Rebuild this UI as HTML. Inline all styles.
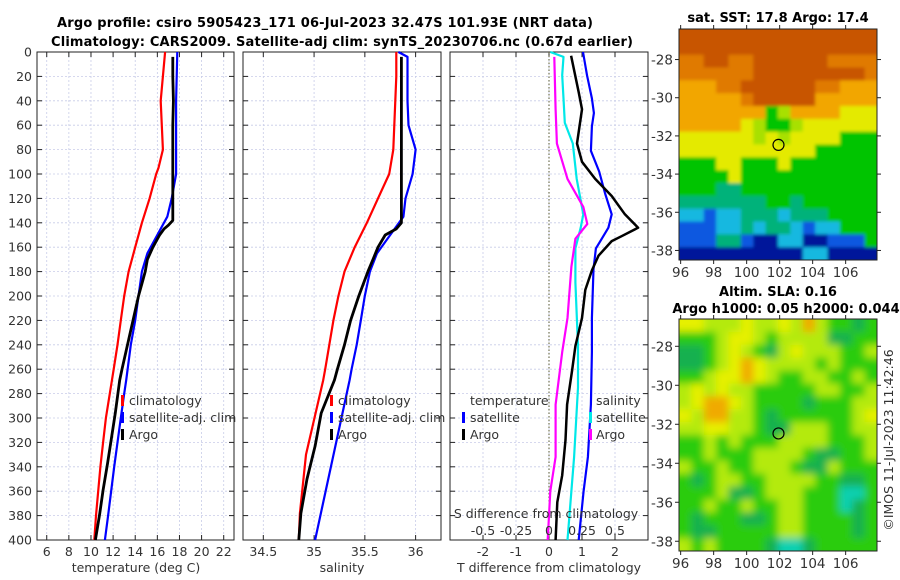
<!DOCTYPE html>
<html><head><meta charset="utf-8"><style>
body{margin:0;background:#fff;}
svg{display:block;font-family:"DejaVu Sans","Liberation Sans",sans-serif;}
.tk{font-size:12.5px;fill:#333;}
.ttl{font-size:13px;font-weight:bold;fill:#000;}
</style></head><body>
<svg id="fig" width="900" height="580" viewBox="0 0 900 580" xmlns="http://www.w3.org/2000/svg">
<defs>
<filter id="blur1" x="-5%" y="-5%" width="110%" height="110%"><feGaussianBlur stdDeviation="1.6"/></filter>
<filter id="blur2" x="-5%" y="-5%" width="110%" height="110%"><feGaussianBlur stdDeviation="4"/></filter>
<clipPath id="clip1"><rect x="679" y="29" width="198" height="231"/></clipPath>
<clipPath id="clip2"><rect x="679" y="319" width="198" height="232"/></clipPath>
</defs>
<text class="ttl" x="325" y="27" text-anchor="middle" textLength="536">Argo profile: csiro 5905423_171 06-Jul-2023 32.47S 101.93E (NRT data)</text>
<text class="ttl" x="342" y="46" text-anchor="middle" textLength="582">Climatology: CARS2009. Satellite-adj clim: synTS_20230706.nc (0.67d earlier)</text>
<g id="p1"></g>
<g id="p2"></g>
<g id="p3"></g>
<g id="m1"></g>
<g id="m2"></g>
<text class="tk" transform="translate(893,440) rotate(-90)" text-anchor="middle">©IMOS 11-Jul-2023 11:42:46</text>
</svg>
<script>
// ---- data ----
const depthTicks=[0,20,40,60,80,100,120,140,160,180,200,220,240,260,280,300,320,340,360,380,400];
const tClimDepth=[0,20,40,60,80,95,100,120,140,160,180,200,220,240,260,280,300,320,340,360,380,400];
const tClimVal=[16.7,16.5,16.3,16.4,16.5,16.1,15.9,15.3,14.6,14.0,13.4,13.0,12.7,12.4,12.05,11.7,11.35,11.1,10.85,10.65,10.45,10.3];
const tSatDepth=[0,20,40,60,80,100,120,135,150,165,180,200,220,240,269,280,300,340,380,400];
const tSatVal=[17.8,17.75,17.7,17.7,17.7,17.7,17.3,16.9,16.0,15.1,14.6,14.3,14.0,13.6,13.18,13.0,12.7,12.1,11.55,11.26];
const tArgoDepth=[4,20,40,60,80,100,120,138,142,145,150,160,170,180,190,200,220,240,260,269,296,337,359,378,400];
const tArgoVal=[17.4,17.4,17.45,17.4,17.4,17.4,17.4,17.4,17.0,16.6,16.2,15.6,15.1,14.9,14.6,14.3,13.8,13.3,12.8,12.6,12.2,11.5,11.1,10.8,10.4];
const sClimDepth=[0,20,40,60,80,100,120,140,160,180,200,220,240,260,269,330,378,400];
const sClimVal=[35.81,35.81,35.80,35.79,35.78,35.74,35.63,35.52,35.40,35.30,35.24,35.19,35.15,35.11,35.09,34.92,34.86,34.85];
const sSatDepth=[0,4,40,60,80,100,120,135,150,165,180,200,220,240,260,269,400];
const sSatVal=[35.83,35.92,35.92,35.93,36.0,35.97,35.90,35.88,35.75,35.62,35.55,35.50,35.46,35.42,35.37,35.35,35.01];
const sArgoDepth=[4,40,80,120,140,145,150,160,170,180,200,220,240,260,269,296,323,350,378,400];
const sArgoVal=[35.86,35.86,35.86,35.86,35.86,35.81,35.70,35.63,35.58,35.53,35.44,35.36,35.30,35.23,35.20,35.07,35.01,34.93,34.87,34.85];
const dTSatDepth=[0,19,38,50,61,81,98,116,133,144,153,161,178,218,246,289,332,360,400];
const dTSatVal=[1.03,1.15,1.3,1.36,1.3,1.27,1.52,1.7,1.9,1.8,1.6,1.42,1.35,1.3,1.3,1.27,1.18,1.05,0.9];
const dTArgoDepth=[3,33,47,75,90,104,118,133,144,151,155,167,179,195,218,241,261,289,318,347,369,400];
const dTArgoVal=[0.67,0.9,1.0,0.85,1.0,1.4,1.9,2.3,2.7,2.2,1.9,1.5,1.3,1.1,1.0,0.8,0.7,0.55,0.5,0.4,0.25,0.2];
const dSSatDepth=[0,4,19,38,58,75,104,133,144,161,189,241,275,332,400];
const dSSatVal=[0.01,0.11,0.10,0.11,0.12,0.18,0.21,0.26,0.24,0.2,0.2,0.22,0.22,0.19,0.14];
const dSArgoDepth=[4,47,75,104,127,141,153,176,218,246,289,332,360,400];
const dSArgoVal=[0.04,0.05,0.06,0.14,0.26,0.29,0.2,0.17,0.14,0.1,0.05,0.05,0.01,-0.01];
const tTicks=[6,8,10,12,14,16,18,20,22];
const sTicks=[34.5,35,35.5,36];
const dTTicks=[-2,-1,0,1,2];
const dSTicks=[-0.5,-0.25,0,0.25,0.5];
const dSTickLabels=['-0.5','-0.25','0','0.25','0.5'];
const lonTicks=[96,98,100,102,104,106];
const latTicks=[-28,-30,-32,-34,-36,-38];
const sstGrid=[
"RRRRRRRRRRRRRRRR","RRRRRRRRRRRRRRRR","OORROORRRRRROOOO","OOOOOORRRRRRRRRO","AAAOORRRRRROOAAA","AAAAAORRRRRAAAAA",
"AAAAAAAGLAAAAYYY","AAAAAYLGGLYYYYYY","YYYYYYLYLYYYYGGG","YYYYYYYYYYYGGGGG","GGGYYGGGYGGGGGGG","GGGGYGGGGGGGGGGG",
"GGGTTGGGGGGGGGGG","TTTTTTTGGTGGGGGG","CCBCCTTTCTTTGGGG","BBBCCTCTTCBCCGGG","BBBTTBNNCCNNBBBG","NNNNNNNNNNCCNNNN"];
const slaGrid=[
"YYLLLYLLYLOLGGDG","GGGLYYLGLLLLDDGG","DDGLYLGDLYLLLGGL","DDGLYOYLLLLGLGGG","GGLYYOYLGGLLGGLG","LYLYLLGGGGGLLGGL",
"LYOOYLGGGGDGGGLL","YLOOLLGDGGGGGGLY","LLYYLLGDDLLLGGLL","GGLGLGGGLLLLGGGL","GGLGGGLLLLGDDGGL","LGGLGGLLLGDDLGGG",
"GDGLLGGLLLLGGDDG","GGGLDDGLLLGGGCCG","GGLGGLGGLLGGGCDG","GDGGGDDGLLGGGGDG","GDDGGGGGLLGGGGDG","LGLGGGGDCCDGGGGG"];
const argoLon=101.93, argoLat=-32.47;

// ---- helpers ----
const NS="http://www.w3.org/2000/svg";
function mk(parent,tag,attrs){const e=document.createElementNS(NS,tag);for(const k in attrs)e.setAttribute(k,attrs[k]);parent.appendChild(e);return e;}
const top0=52,bot0=540;
const yD=d=>top0+(bot0-top0)*d/400;
function lin(d0,d1,r0,r1){return v=>r0+(v-d0)*(r1-r0)/(d1-d0);}

function panel(g,x0,x1,xs,ticks,labels){
  for(const d of depthTicks){const l=mk(g,'line',{x1:x0,x2:x1,y1:yD(d),y2:yD(d),stroke:'#c8cce8','stroke-width':0.8,'stroke-dasharray':'2,2'});
    }
  ticks.forEach((t,i)=>{const x=xs(t);
    const l=mk(g,'line',{x1:x,x2:x,y1:top0,y2:bot0,stroke:'#c8cce8','stroke-width':0.8,'stroke-dasharray':'2,2'});
    
    mk(g,'line',{x1:x,x2:x,y1:bot0,y2:bot0-5,stroke:'#222'});mk(g,'line',{x1:x,x2:x,y1:top0,y2:top0+5,stroke:'#222'});
    const tx=mk(g,'text',{x:x,y:556,'text-anchor':'middle',class:'tk'});tx.textContent=labels[i];
    });
  for(const d of depthTicks){mk(g,'line',{x1:x0,x2:x0+5,y1:yD(d),y2:yD(d),stroke:'#222'});mk(g,'line',{x1:x1,x2:x1-5,y1:yD(d),y2:yD(d),stroke:'#222'});}
  const r=mk(g,'rect',{x:x0,y:top0,width:x1-x0,height:bot0-top0,fill:'none',stroke:'#222','stroke-width':1});
  
}
function curve(g,xs,depths,vals,color,w,name){
  const pts=depths.map((d,i)=>xs(vals[i]).toFixed(1)+','+yD(d).toFixed(1)).join(' ');
  const p=mk(g,'polyline',{points:pts,fill:'none',stroke:color,'stroke-width':w,'stroke-linejoin':'round'});
  
}
function txt(g,x,y,s,anchor,name,extra){const t=mk(g,'text',Object.assign({x:x,y:y,'text-anchor':anchor||'start',class:'tk'},extra||{}));t.textContent=s;
  return t;}
function legBar(g,x,y,color,name){const r=mk(g,'rect',{x:x,y:y-10,width:3,height:11,fill:color});}

// Panel 1
const p1=document.getElementById('p1');
const xT=lin(5.12,22.93,37,234);
panel(p1,37,234,xT,tTicks,tTicks.map(String));
depthTicks.forEach(d=>txt(p1,32,yD(d)+4.5,String(d),'end','y-tick-label'));
curve(p1,xT,tClimDepth,tClimVal,'#ff0000',2.2,'temp-climatology-line');
curve(p1,xT,tSatDepth,tSatVal,'#0000ff',2.2,'temp-satellite-line');
curve(p1,xT,tArgoDepth,tArgoVal,'#000',2.8,'temp-argo-line');
legBar(p1,121,405,'#ff0000','legend-swatch-climatology');txt(p1,129,405,'climatology','start','legend-climatology');
legBar(p1,121,422,'#0000ff','legend-swatch-satellite');txt(p1,129,422,'satellite-adj. clim','start','legend-satellite');
legBar(p1,121,439,'#000','legend-swatch-argo');txt(p1,129,439,'Argo','start','legend-argo');
txt(p1,136,572,'temperature (deg C)','middle','x-axis-title');

// Panel 2
const p2=document.getElementById('p2');
const xS=lin(34.30,36.25,243,441);
panel(p2,243,441,xS,sTicks,sTicks.map(String));
curve(p2,xS,sClimDepth,sClimVal,'#ff0000',2.2,'sal-climatology-line');
curve(p2,xS,sSatDepth,sSatVal,'#0000ff',2.2,'sal-satellite-line');
curve(p2,xS,sArgoDepth,sArgoVal,'#000',2.8,'sal-argo-line');
legBar(p2,330,405,'#ff0000','legend-swatch-climatology');txt(p2,338,405,'climatology','start','legend-climatology');
legBar(p2,330,422,'#0000ff','legend-swatch-satellite');txt(p2,338,422,'satellite-adj. clim','start','legend-satellite');
legBar(p2,330,439,'#000','legend-swatch-argo');txt(p2,338,439,'Argo','start','legend-argo');
txt(p2,342,572,'salinity','middle','x-axis-title');

// Panel 3
const p3=document.getElementById('p3');
const xDT=lin(-3,3,450,648);
const xDS=lin(-0.75,0.75,450,648);
panel(p3,450,648,xDT,dTTicks,dTTicks.map(String));
const z=mk(p3,'line',{x1:xDT(0),x2:xDT(0),y1:top0,y2:bot0,stroke:'#5a5a30','stroke-width':1,'stroke-dasharray':'1.5,2'});

curve(p3,xDS,dSSatDepth,dSSatVal,'#00e8e8',2.2,'sdiff-satellite-line');
curve(p3,xDS,dSArgoDepth,dSArgoVal,'#ff00ff',2.2,'sdiff-argo-line');
curve(p3,xDT,dTSatDepth,dTSatVal,'#0000ff',2.2,'tdiff-satellite-line');
curve(p3,xDT,dTArgoDepth,dTArgoVal,'#000',2.5,'tdiff-argo-line');
txt(p3,470,405,'temperature','start','legend-temperature-heading');
legBar(p3,462,422,'#0000ff','legend-swatch-t-satellite');txt(p3,470,422,'satellite','start','legend-t-satellite');
legBar(p3,462,439,'#000','legend-swatch-t-argo');txt(p3,470,439,'Argo','start','legend-t-argo');
txt(p3,596,405,'salinity','start','legend-salinity-heading');
legBar(p3,589,422,'#00e8e8','legend-swatch-s-satellite');txt(p3,596,422,'satellite','start','legend-s-satellite');
legBar(p3,589,439,'#ff00ff','legend-swatch-s-argo');txt(p3,596,439,'Argo','start','legend-s-argo');
txt(p3,546,518,'S difference from climatology','middle','s-axis-title');
dSTicks.forEach((t,i)=>txt(p3,xDS(t),535,dSTickLabels[i],'middle','s-tick-label'));
txt(p3,549,572,'T difference from climatology','middle','x-axis-title');

// Maps
const pal1={R:'#c85400',O:'#e07a00',A:'#f2a600',Y:'#e4ea00',L:'#a8e000',G:'#00c400',T:'#00b27a',C:'#18b8e0',B:'#1058e0',N:'#00189a'};
const pal2={Y:'#e6f000',L:'#b4ea10',G:'#2ccc10',O:'#f0aa00',D:'#14b050',C:'#10d0b0'};
function map(gid,x0,x1,y0,y1,grid,pal,latTop,latBot,title1,title2,t1y,t2y,filt,clip){
  const g=document.getElementById(gid);
  const cg=mk(g,'g',{'clip-path':'url(#'+clip+')'});
  const fg=mk(cg,'g',{filter:'url(#'+filt+')'});
  const rows=grid.length,cols=grid[0].length,cw=(x1-x0)/cols,ch=(y1-y0)/rows;
  grid.forEach((row,r)=>{for(let c=0;c<cols;c++){
    let rx=x0+c*cw, ry=y0+r*ch, w=cw+0.6, h=ch+0.6;
    if(c===0){rx-=8;w+=8;} if(c===cols-1){w+=8;} if(r===0){ry-=8;h+=8;} if(r===rows-1){h+=8;}
    const e=mk(fg,'rect',{x:rx.toFixed(2),y:ry.toFixed(2),width:w.toFixed(2),height:h.toFixed(2),fill:pal[row[c]]});
    }});
  const xs=lin(95.9,107.9,x0,x1), ys=lin(latTop,latBot,y0,y1);
  lonTicks.forEach(t=>{mk(g,'line',{x1:xs(t),x2:xs(t),y1:y1,y2:y1+4,stroke:'#222'});mk(g,'line',{x1:xs(t),x2:xs(t),y1:y0,y2:y0-4,stroke:'#222'});
    txt(g,xs(t),y1+17,String(t),'middle','lon-tick-label',{style:'font-size:13.5px'});});
  latTicks.forEach(t=>{mk(g,'line',{x1:x0,x2:x0-4,y1:ys(t),y2:ys(t),stroke:'#222'});mk(g,'line',{x1:x1,x2:x1+4,y1:ys(t),y2:ys(t),stroke:'#222'});
    txt(g,x0-6,ys(t)+5,String(t),'end','lat-tick-label',{style:'font-size:13.5px'});});
  const f=mk(g,'rect',{x:x0,y:y0,width:x1-x0,height:y1-y0,fill:'none',stroke:'#222'});
  
  const c=mk(g,'circle',{cx:xs(argoLon),cy:ys(argoLat),r:5.5,fill:'none',stroke:'#000','stroke-width':1.2});
  
  if(title1){const t=txt(g,(x0+x1)/2,t1y,title1,'middle','map-title');t.setAttribute('class','ttl');}
  if(title2){const t=txt(g,(x0+x1)/2+8,t2y,title2,'middle','map-subtitle');t.setAttribute('class','ttl');}
}
map('m1',679,877,29,260,sstGrid,pal1,-26.4,-38.5,'sat. SST: 17.8 Argo: 17.4',null,22,0,'blur1','clip1');
map('m2',679,877,319,551,slaGrid,pal2,-26.6,-38.5,'Altim. SLA: 0.16','Argo h1000: 0.05 h2000: 0.044',296,313,'blur2','clip2');
</script>
</body></html>
